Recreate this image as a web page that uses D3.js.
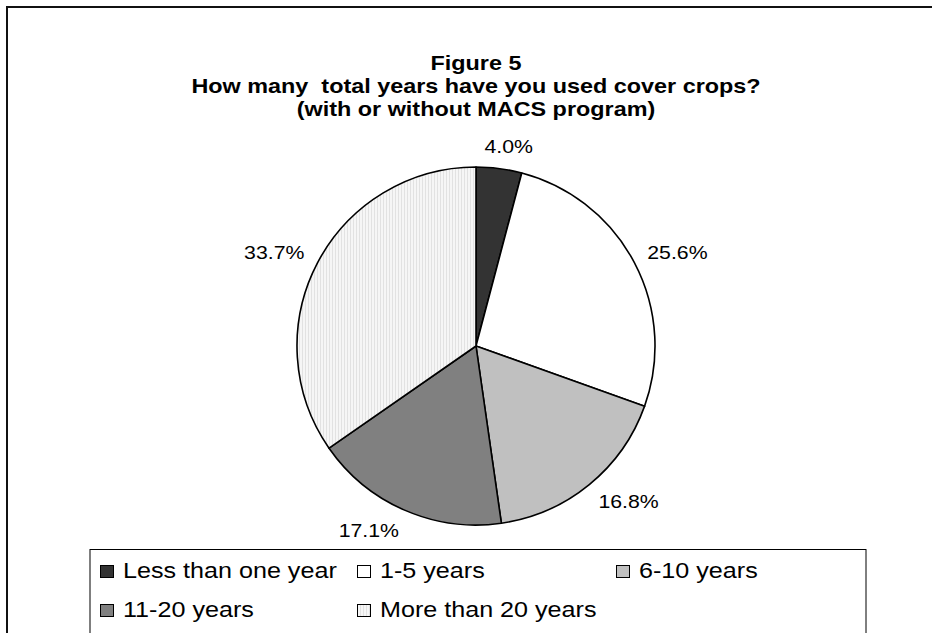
<!DOCTYPE html>
<html>
<head>
<meta charset="utf-8">
<script src="https://cdn.jsdelivr.net/npm/d3@7"></script>
<style>
  html, body { margin: 0; padding: 0; background: #fff; overflow: hidden; }
  svg { display: block; }
  text { font-family: "Liberation Sans", Arial, sans-serif; fill: #000; white-space: pre; }
</style>
</head>
<body>
<svg id="chart" width="932" height="633"></svg>
<script>
// Survey answers: share of respondents (percent) per category
const categories = ["Less than one year", "1-5 years", "6-10 years", "11-20 years", "More than 20 years"];
const values = [4.0, 25.6, 16.8, 17.1, 33.7];
const fills = ["#333333", "#ffffff", "#c0c0c0", "#808080", "url(#stripes)"];
const titleLines = ["Figure 5", "How many  total years have you used cover crops?", "(with or without MACS program)"];

const W = 932, H = 633;
const sx = 1.17;            // horizontal text stretch of the exported figure
const cx = 476, cy = 346, R = 179;

const svg = d3.select("#chart");

// light vertical-hatch fill for the last slice
const defs = svg.append("defs");
const pat = defs.append("pattern")
  .attr("id", "stripes").attr("patternUnits", "userSpaceOnUse")
  .attr("width", 3).attr("height", 3);
pat.append("rect").attr("width", 3).attr("height", 3).attr("fill", "#f6f6f6");
pat.append("rect").attr("width", 1).attr("height", 3).attr("fill", "#e2e2e2");

// outer chart frame: only its top and left edges fall on the page
svg.append("path")
  .attr("d", `M7,${H} V7 H${W}`)
  .attr("fill", "none").attr("stroke", "#111").attr("stroke-width", 2);

// helper: stretched text placed at (x, y)
function stretchedText(g, x, y, str, size, weight, anchor) {
  return g.append("text")
    .attr("transform", `translate(${x},${y}) scale(${sx},1)`)
    .attr("text-anchor", anchor || "middle")
    .style("font-size", size + "px")
    .style("font-weight", weight || "normal")
    .text(str);
}

// title
const titleG = svg.append("g");
const titleBase = [70, 93, 116];
titleLines.forEach((t, i) => stretchedText(titleG, cx, titleBase[i], t, 20, "bold"));

// pie
const pie = d3.pie().sort(null).value(d => d)(values);
const arc = d3.arc().innerRadius(0).outerRadius(R);

const pieG = svg.append("g").attr("transform", `translate(${cx},${cy})`);
pieG.selectAll("path.slice")
  .data(pie)
  .join("path")
  .attr("class", "slice")
  .attr("d", arc)
  .attr("fill", (d, i) => fills[i])
  .attr("stroke", "#000")
  .attr("stroke-width", 1.6)
  .attr("stroke-linejoin", "round");

// percentage labels just outside each slice
const labelSize = 18.2;
const fmt = d3.format(".1f");
pie.forEach((d, i) => {
  const a = (d.startAngle + d.endAngle) / 2;
  const s = Math.sin(a), c = -Math.cos(a);
  const str = fmt(values[i]) + "%";
  const halfW = str.length * labelSize * 0.28 * sx;
  const halfH = labelSize * 0.38;
  const dist = R + 15;
  const x = cx + dist * s + halfW * Math.sign(s) * Math.min(1, 2.5 * Math.abs(s));
  const y = cy + dist * c + halfH * c + labelSize * 0.36;
  stretchedText(svg, x, y, str, labelSize);
});

// legend box (bottom edge is below the page)
svg.append("rect")
  .attr("x", 90).attr("y", 549.5).attr("width", 776).attr("height", 120)
  .attr("fill", "#fff").attr("stroke", "#000").attr("stroke-width", 1);

const legendCols = [100, 357, 616];
const legendRows = [578, 617];
const legendG = svg.append("g");
categories.forEach((name, i) => {
  const col = i < 3 ? i : i - 3;
  const row = i < 3 ? 0 : 1;
  const x = legendCols[col], y = legendRows[row];
  legendG.append("rect")
    .attr("x", x + 0.5).attr("y", y - 12.5)
    .attr("width", 13).attr("height", 12)
    .attr("fill", fills[i]).attr("stroke", "#000").attr("stroke-width", 1);
  stretchedText(legendG, x + 23, y, name, 21.5, "normal", "start");
});
</script>
</body>
</html>
